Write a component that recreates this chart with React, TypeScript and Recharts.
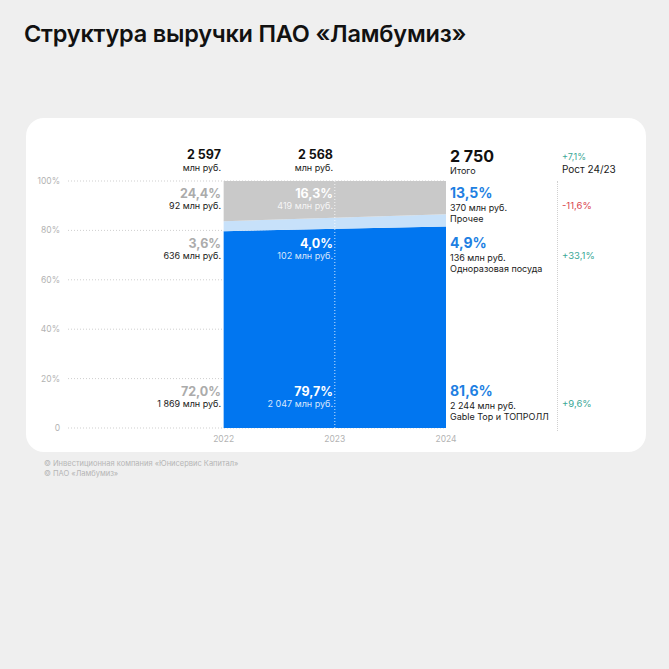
import React from "react";
import {
  AreaChart,
  Area,
  XAxis,
  YAxis,
  CartesianGrid,
  ReferenceLine,
} from "recharts";

// revenue structure, % of total and mln rub by year
const years = [2022, 2023, 2024];
const totals = ["2 597", "2 568", "2 750"];
const mainShare = [72.0, 79.7, 81.6];
const dispShare = [3.6, 4.0, 4.9];
const otherShare = [24.4, 16.3, 13.5];
const mainAmount = ["1 869", "2 047", "2 244"];
const dispAmount = ["636", "102", "136"];
const otherAmount = ["92", "419", "370"];
const segmentNames = ["Прочее", "Одноразовая посуда", "Gable Top и ТОПРОЛЛ"];
const growth = ["-11,6%", "+33,1%", "+9,6%"];
const totalGrowth = "+7,1%";
const yTicks = [0, 20, 40, 60, 80, 100];

// the band is drawn from the first tick to the last one,
// with the 2023 split on the left edge and 2024 on the right
const bandX = [years[0], years[2]];
const bandFrom = [1, 2];

const areaData = bandX.map((x, k) => ({
  x,
  main: mainShare[bandFrom[k]],
  disp: dispShare[bandFrom[k]],
  other: otherShare[bandFrom[k]],
}));

const BLUE = "#0176f0";
const LIGHT = "#c7e1fa";
const GREY = "#c9c9c9";
const FONT = "Inter, 'Noto Sans', sans-serif";

const pct = (v: number) => v.toFixed(1).replace(".", ",") + "%";

// y is the vertical centre of the line
function T({
  x,
  y,
  size = 9,
  weight = 400,
  color = "#1a1a1a",
  right = false,
  children,
}: {
  x: number;
  y: number;
  size?: number;
  weight?: number;
  color?: string;
  right?: boolean;
  children: React.ReactNode;
}) {
  return (
    <div
      style={{
        position: "absolute",
        left: x,
        top: y - size / 2,
        fontSize: size,
        lineHeight: `${size}px`,
        fontWeight: weight,
        color,
        whiteSpace: "nowrap",
        transform: right ? "translateX(-100%)" : undefined,
      }}
    >
      {children}
    </div>
  );
}

export default function App() {
  // column anchors: 2022 / 2023 right-aligned, 2024 and growth left-aligned
  const colX = [221, 333, 450];
  const growthX = 562;
  // rows top-down: other, disposable, main
  const shares = [otherShare, dispShare, mainShare];
  const amounts = [otherAmount, dispAmount, mainAmount];
  const rowY = [194, 244, 392];

  return (
    <div
      style={{
        position: "relative",
        width: 669,
        height: 669,
        background: "#efefef",
        overflow: "hidden",
        fontFamily: FONT,
      }}
    >
      <style>{"body{margin:0}"}</style>
      <div
        style={{
          position: "absolute",
          left: 24,
          top: 19,
          fontSize: 23.5,
          fontWeight: 600,
          letterSpacing: -0.2,
          color: "#111",
        }}
      >
        Структура выручки ПАО «Ламбумиз»
      </div>

      <div
        style={{
          position: "absolute",
          left: 26,
          top: 118,
          width: 620,
          height: 334,
          borderRadius: 18,
          background: "#fff",
        }}
      />

      <div style={{ position: "absolute", left: 26, top: 118 }}>
        <AreaChart
          width={620}
          height={334}
          data={areaData}
          margin={{ top: 63, right: 200, bottom: 4, left: 0 }}
        >
          <CartesianGrid
            vertical={false}
            stroke="#cfcfcf"
            strokeDasharray="1 2"
          />
          <XAxis
            type="number"
            dataKey="x"
            domain={[2020.6, 2024]}
            ticks={years}
            height={20}
            axisLine={false}
            tickLine={false}
            tick={{ fill: "#b3b3b3", fontSize: 8.5, fontFamily: FONT }}
          />
          <YAxis
            domain={[0, 100]}
            ticks={yTicks}
            width={42}
            axisLine={false}
            tickLine={false}
            tickFormatter={(v) => (v === 0 ? "0" : `${v}%`)}
            tick={{ fill: "#b3b3b3", fontSize: 8.5, fontFamily: FONT }}
          />
          <Area
            type="linear"
            dataKey="main"
            stackId="s"
            fill={BLUE}
            fillOpacity={1}
            stroke="none"
            isAnimationActive={false}
            activeDot={false}
          />
          <Area
            type="linear"
            dataKey="disp"
            stackId="s"
            fill={LIGHT}
            fillOpacity={1}
            stroke="none"
            isAnimationActive={false}
            activeDot={false}
          />
          <Area
            type="linear"
            dataKey="other"
            stackId="s"
            fill={GREY}
            fillOpacity={1}
            stroke="none"
            isAnimationActive={false}
            activeDot={false}
          />
          <ReferenceLine
            x={years[1]}
            stroke="#ffffff"
            strokeOpacity={0.8}
            strokeDasharray="1 2"
          />
        </AreaChart>
      </div>

      {/* growth column divider */}
      <div
        style={{
          position: "absolute",
          left: 557,
          top: 181,
          height: 250,
          borderLeft: "1px dotted #d0d0d0",
        }}
      />

      {/* totals */}
      {totals.map((t, i) =>
        i < 2 ? (
          <React.Fragment key={t}>
            <T x={colX[i]} y={155.5} size={12.5} weight={700} color="#111" right>
              {t}
            </T>
            <T x={colX[i]} y={167} size={9} right>
              млн руб.
            </T>
          </React.Fragment>
        ) : (
          <React.Fragment key={t}>
            <T x={colX[i]} y={156} size={16} weight={700} color="#111">
              {t}
            </T>
            <T x={colX[i]} y={170.5} size={9}>
              Итого
            </T>
          </React.Fragment>
        )
      )}
      <T x={growthX} y={156.5} size={9} color="#3aa796">
        {totalGrowth}
      </T>
      <T x={growthX} y={169} size={10}>
        Рост 24/23
      </T>

      {/* segment labels */}
      {shares.map((s, r) => (
        <React.Fragment key={r}>
          <T x={colX[0]} y={rowY[r]} size={12.5} weight={700} color="#ababab" right>
            {pct(s[0])}
          </T>
          <T x={colX[0]} y={rowY[r] + 11.5} size={9} right>
            {amounts[r][0]} млн руб.
          </T>
          <T x={colX[1]} y={rowY[r]} size={12.5} weight={700} color="#fff" right>
            {pct(s[1])}
          </T>
          <T
            x={colX[1]}
            y={rowY[r] + 11.5}
            size={9}
            color="rgba(255,255,255,0.85)"
            right
          >
            {amounts[r][1]} млн руб.
          </T>
          <T x={colX[2]} y={rowY[r] - 1} size={14} weight={700} color="#1e7fe2">
            {pct(s[2])}
          </T>
          <T x={colX[2]} y={rowY[r] + 13} size={9}>
            {amounts[r][2]} млн руб.
          </T>
          <T x={colX[2]} y={rowY[r] + 24} size={9}>
            {segmentNames[r]}
          </T>
          <T
            x={growthX}
            y={rowY[r] + 11.5}
            size={9.5}
            color={growth[r].startsWith("-") ? "#d9434c" : "#3aa796"}
          >
            {growth[r]}
          </T>
        </React.Fragment>
      ))}

      <T x={44} y={464} size={7.5} color="#b5b5b5">
        © Инвестиционная компания «Юнисервис Капитал»
      </T>
      <T x={44} y={474} size={7.5} color="#b5b5b5">
        © ПАО «Ламбумиз»
      </T>
    </div>
  );
}
